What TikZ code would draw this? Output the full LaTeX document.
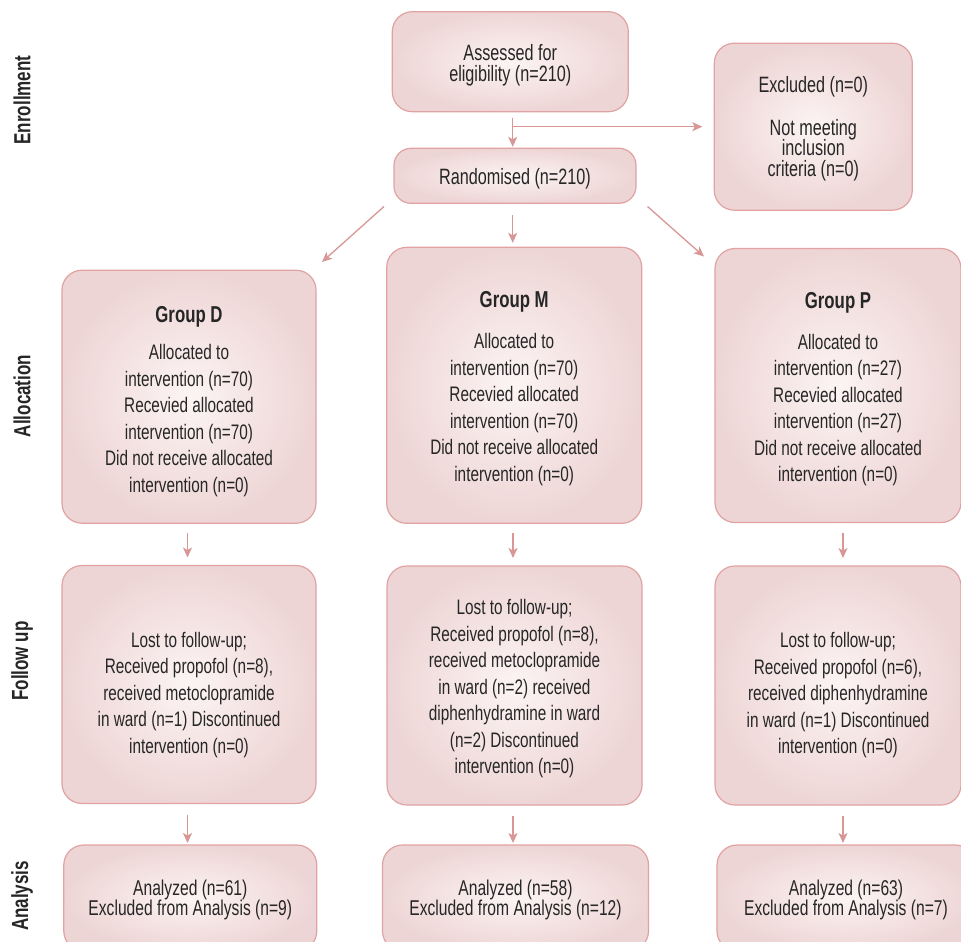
\documentclass[tikz,border=0pt]{standalone}
\usepackage{fontspec}
\setmainfont[FakeStretch=0.73]{Liberation Sans}
\usetikzlibrary{arrows.meta}
\definecolor{edgec}{RGB}{224,162,162}
\definecolor{arrc}{RGB}{216,150,150}
\definecolor{fillo}{RGB}{238,213,213}
\definecolor{filli}{RGB}{252,244,244}
\definecolor{txt}{RGB}{38,38,38}
\newcommand{\gtitle}[1]{{\fontsize{23}{24}\selectfont\bfseries #1}}
\tikzset{
  box/.style={draw=edgec, line width=1.2pt, rounded corners=20pt,
    inner color=filli, outer color=fillo, text=txt, align=center,
    inner sep=0pt, outer sep=0pt},
  big/.style={font=\fontsize{21}{26.5}\selectfont},
  small/.style={font=\fontsize{22.2}{20.7}\selectfont},
  ana/.style={font=\fontsize{21.4}{20.3}\selectfont},
  arr/.style={draw=arrc, line width=1.3pt,
    -{Stealth[length=10pt,width=9pt,inset=2.5pt]}},
  phase/.style={rotate=90, text=txt, font=\fontsize{23.3}{24}\selectfont\bfseries}
}
\begin{document}
\begin{tikzpicture}[x=1pt,y=-1pt]
\useasboundingbox (0,0) rectangle (961,942);
% phase labels
\node[phase] (lenr) at (22,100) {Enrollment};
\node[phase] (lall) at (22,396) {Allocation};
\node[phase] (lfol) at (22,661) {Follow up};
\node[phase] (lana) at (22,896) {Analysis};
% enrollment
\node[box, small, minimum width=236, minimum height=100] (assess) at (510.3,61.7)
  {\rule{0pt}{23pt}Assessed for\\ eligibility (n=210)};
\node[box, small, rounded corners=17pt, minimum width=242, minimum height=55] (rand) at (515,175.8)
  {\rule{0pt}{21pt}Randomised (n=210)};
\node[box, small, minimum width=198, minimum height=167] (excl) at (813.3,126.7)
  {\rule{0pt}{20.5pt}Excluded (n=0)\\[21.7pt] Not meeting\\ inclusion\\ criteria (n=0)};
% allocation
\node[box, big, minimum width=254, minimum height=253] (gd) at (189,396.7)
  {\rule{0pt}{26pt}\gtitle{Group D}\\[10.5pt] Allocated to\\ intervention (n=70)\\ Recevied allocated\\ intervention (n=70)\\ Did not receive allocated\\ intervention (n=0)};
\node[box, big, minimum width=255, minimum height=276] (gm) at (514.2,385.3)
  {\rule{0pt}{23pt}\gtitle{Group M}\\[14.5pt] Allocated to\\ intervention (n=70)\\ Recevied allocated\\ intervention (n=70)\\ Did not receive allocated\\ intervention (n=0)};
\node[box, big, minimum width=246, minimum height=274] (gp) at (838,385.5)
  {\rule{0pt}{23pt}\gtitle{Group P}\\[14.5pt] Allocated to\\ intervention (n=27)\\ Recevied allocated\\ intervention (n=27)\\ Did not receive allocated\\ intervention (n=0)};
% follow up
\node[box, big, minimum width=254, minimum height=238] (fd) at (189,684.5)
  {\rule{0pt}{36pt}Lost to follow-up;\\ Received propofol (n=8),\\ received metoclopramide\\ in ward (n=1) Discontinued\\ intervention (n=0)};
\node[box, big, minimum width=255, minimum height=239] (fm) at (514.5,685.5)
  {\rule{0pt}{22pt}Lost to follow-up;\\ Received propofol (n=8),\\ received metoclopramide\\ in ward (n=2) received\\ diphenhydramine in ward\\ (n=2) Discontinued\\ intervention (n=0)};
\node[box, big, minimum width=246, minimum height=239] (fp) at (838,685.5)
  {\rule{0pt}{35pt}Lost to follow-up;\\ Received propofol (n=6),\\ received diphenhydramine\\ in ward (n=1) Discontinued\\ intervention (n=0)};
% analysis
\node[box, ana, minimum width=253, minimum height=106] (ad) at (190.3,898)
  {\rule{0pt}{19pt}Analyzed (n=61)\\ Excluded from Analysis (n=9)};
\node[box, ana, minimum width=266, minimum height=106] (am) at (515.5,898)
  {\rule{0pt}{19pt}Analyzed (n=58)\\ Excluded from Analysis (n=12)};
\node[box, ana, minimum width=258, minimum height=106] (ap) at (846,898)
  {\rule{0pt}{19pt}Analyzed (n=63)\\ Excluded from Analysis (n=7)};
% connectors
\coordinate (br) at (512.7,126.7);
\draw[arr, shorten <=6.5pt, shorten >=1.5pt] (assess.south -| br) -- (rand.north -| br);
\draw[arr, shorten >=12pt] (br) -- (excl.west |- br);
\coordinate (dl1) at (384,206.5);
\coordinate (dl2) at (322,262);
\coordinate (dr1) at (647.5,206.5);
\coordinate (dr2) at (704,256.5);
\draw[arr] (dl1) -- (dl2);
\draw[arr, shorten <=12pt, shorten >=4.5pt] (rand.south -| br) -- (gm.north -| br);
\draw[arr] (dr1) -- (dr2);
\draw[arr, shorten <=10pt, shorten >=8pt] (gd.south -| 187.5,0) -- (fd.north -| 187.5,0);
\draw[arr, shorten <=10pt, shorten >=8pt] (gm.south -| 513,0) -- (fm.north -| 513,0);
\draw[arr, shorten <=10pt, shorten >=8pt] (gp.south -| 843,0) -- (fp.north -| 843,0);
\draw[arr, shorten <=11pt, shorten >=2pt] (fd.south -| 187.5,0) -- (ad.north -| 187.5,0);
\draw[arr, shorten <=11pt, shorten >=2pt] (fm.south -| 513,0) -- (am.north -| 513,0);
\draw[arr, shorten <=11pt, shorten >=2pt] (fp.south -| 843,0) -- (ap.north -| 843,0);
\end{tikzpicture}
\end{document}
